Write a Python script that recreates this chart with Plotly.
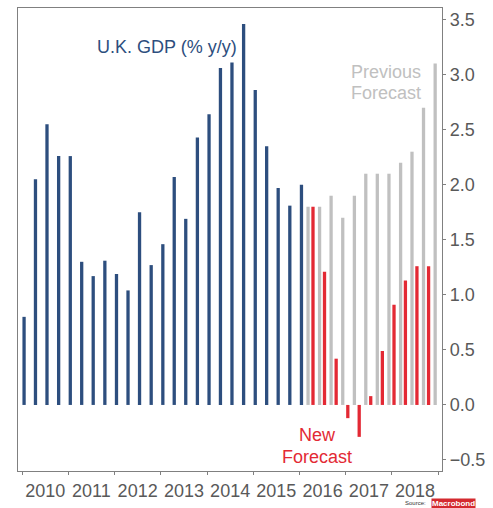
import pandas as pd
import plotly.graph_objects as go

# ---- data ----
actual_quarters = pd.period_range("2010Q1", "2016Q1", freq="Q")
actual_values = [0.80, 2.05, 2.55, 2.26, 2.26, 1.30, 1.17, 1.31, 1.19, 1.04,
                 1.75, 1.27, 1.46, 2.07, 1.69, 2.43, 2.64, 3.06, 3.11, 3.46,
                 2.86, 2.35, 1.97, 1.81, 2.00]

prev_quarters = pd.period_range("2016Q1", "2018Q4", freq="Q")
prev_values = [1.8, 1.8, 1.9, 1.7, 1.9, 2.1, 2.1, 2.1, 2.2, 2.3, 2.7, 3.1]

new_quarters = pd.period_range("2016Q2", "2018Q4", freq="Q")
new_values = [1.80, 1.21, 0.42, -0.12, -0.29, 0.08, 0.49, 0.91, 1.13, 1.26, 1.26]

y_ticks = [-0.5, 0.0, 0.5, 1.0, 1.5, 2.0, 2.5, 3.0, 3.5]

# ---- styling ----
BLUE = "#2d4e7e"
RED = "#e32934"
GRAY = "#c0c0c0"
AXIS = "#808080"
TXT = "#595959"
FONT = "Arial, Liberation Sans, sans-serif"
DAY_MS = 86400000
BAR_W = 26 * DAY_MS


def dates(quarters, offset_days):
    return [q.start_time + pd.Timedelta(days=offset_days) for q in quarters]


fig = go.Figure()
fig.add_trace(go.Bar(x=dates(actual_quarters, 16), y=actual_values,
                     marker=dict(color=BLUE, line=dict(width=0)), width=BAR_W))
fig.add_trace(go.Bar(x=dates(prev_quarters, 68), y=prev_values,
                     marker=dict(color=GRAY, line=dict(width=0)), width=BAR_W))
fig.add_trace(go.Bar(x=dates(new_quarters, 16), y=new_values,
                     marker=dict(color=RED, line=dict(width=0)), width=BAR_W))

fig.update_layout(
    width=493, height=508,
    margin=dict(l=18, r=51, t=7, b=36),
    paper_bgcolor="white", plot_bgcolor="white",
    showlegend=False, barmode="overlay",
    font=dict(family=FONT, color=TXT, size=18),
)

fig.update_xaxes(
    type="date",
    range=["2009-11-30", "2019-01-31"],
    dtick="M12", tick0="2010-01-01",
    tickformat="%Y", ticklabelmode="period",
    ticks="outside", ticklen=3, tickwidth=1, tickcolor=AXIS,
    showline=True, linecolor=AXIS, linewidth=1.3, mirror=True,
    showgrid=False, zeroline=False,
    tickfont=dict(size=18, color=TXT, family=FONT),
)
fig.update_yaxes(
    range=[-0.6, 3.605],
    side="right",
    tickvals=y_ticks, tickformat=".1f",
    ticks="outside", ticklen=3, tickwidth=1, tickcolor=AXIS,
    showline=True, linecolor=AXIS, linewidth=1.3, mirror=True,
    showgrid=False, zeroline=False,
    tickfont=dict(size=18, color=TXT, family=FONT),
)

ann = [
    dict(text="U.K. GDP (% y/y)", x=0.3517, y=0.9167, color=BLUE),
    dict(text="Previous", x=0.8685, y=0.8608, color=GRAY),
    dict(text="Forecast", x=0.8685, y=0.8156, color=GRAY),
    dict(text="New", x=0.7057, y=0.0775, color=RED),
    dict(text="Forecast", x=0.7057, y=0.0310, color=RED),
]
for a in ann:
    fig.add_annotation(text=a["text"], x=a["x"], y=a["y"], xref="paper", yref="paper",
                       xanchor="center", yanchor="middle", showarrow=False,
                       font=dict(size=18, color=a["color"], family=FONT))

fig.add_annotation(text="Source:", x=0.966, y=-0.0695, xref="paper", yref="paper",
                   xanchor="right", yanchor="middle", showarrow=False,
                   font=dict(size=6, color="#333333", family=FONT))
fig.add_annotation(text="<b>Macrobond</b>", x=0.975, y=-0.0695, xref="paper", yref="paper",
                   xanchor="left", yanchor="middle", showarrow=False,
                   bgcolor="#d42a2f", borderpad=0,
                   font=dict(size=8, color="white", family="Liberation Sans Narrow, Arial Narrow, Arial"))

fig.write_html("out.html", config={"displayModeBar": False},
               post_script="document.body.style.margin='0';")
